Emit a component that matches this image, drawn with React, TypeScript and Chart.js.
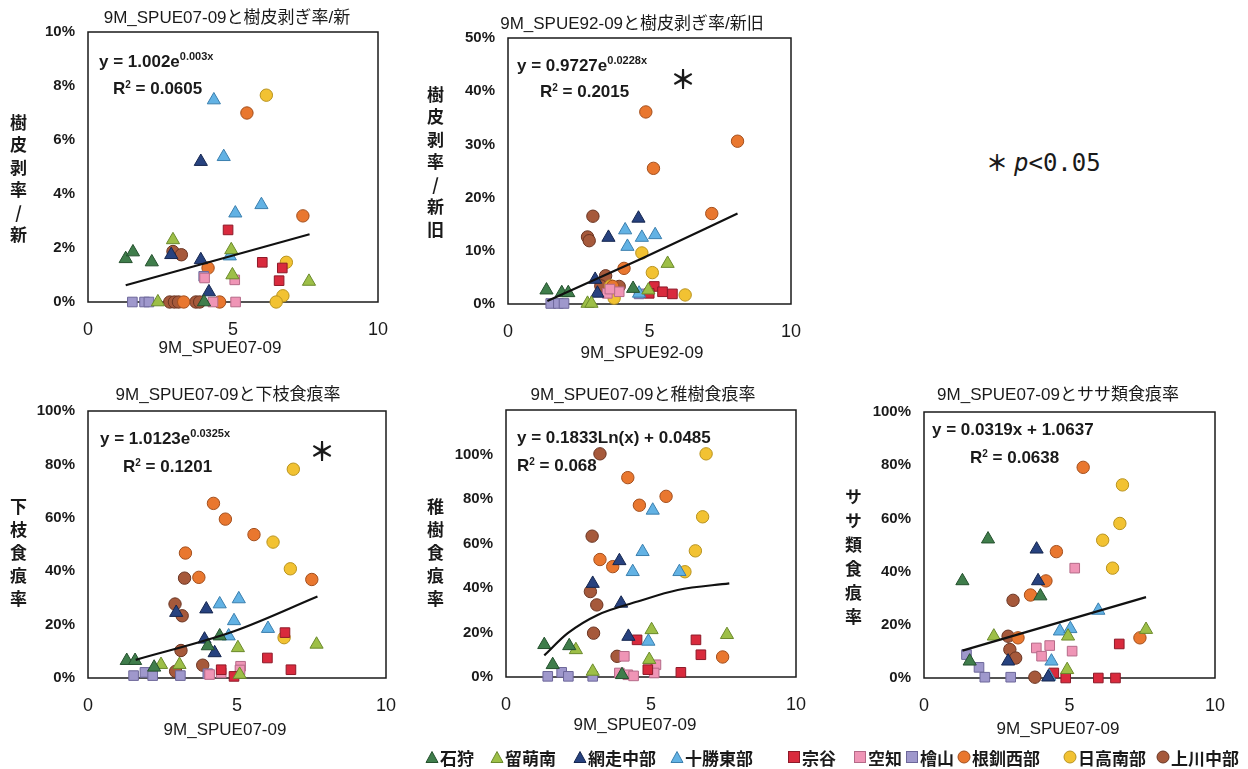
import React, { useEffect, useRef } from 'react';
import { Chart, registerables } from 'chart.js';

Chart.register(...registerables);

// ---------- data ----------
const REGIONS = ['石狩', '留萌南', '網走中部', '十勝東部', '宗谷', '空知', '檜山', '根釧西部', '日高南部', '上川中部'];
const X_TICK_STEP = 5;

// [regionIndex, SPUE, rate %]
type Pt = [number, number, number];

const BARK_NEW: Pt[] = [
  [0, 1.3, 1.6], [0, 1.55, 1.85], [0, 2.2, 1.48], [0, 4.0, 0],
  [1, 2.93, 2.3], [1, 4.94, 1.93], [1, 4.98, 1.0], [1, 7.62, 0.76], [1, 2.41, 0],
  [2, 2.87, 1.75], [2, 3.89, 5.2], [2, 3.89, 1.56], [2, 4.17, 0.37],
  [3, 4.34, 7.48], [3, 4.68, 5.38], [3, 5.08, 3.29], [3, 5.98, 3.6], [3, 4.89, 1.7],
  [4, 4.83, 2.67], [4, 6.01, 1.47], [4, 6.7, 1.26], [4, 6.59, 0.79],
  [5, 4.02, 0.89], [5, 5.06, 0.82], [5, 4.31, 0], [5, 5.09, 0],
  [6, 1.53, 0], [6, 1.95, 0], [6, 2.1, 0], [6, 3.99, 0.95],
  [7, 5.48, 7.0], [7, 7.41, 3.19], [7, 4.14, 1.26], [7, 4.54, 0], [7, 3.3, 0],
  [8, 6.15, 7.66], [8, 6.84, 1.47], [8, 6.72, 0.23], [8, 6.49, 0],
  [9, 2.93, 1.87], [9, 3.22, 1.75], [9, 2.82, 0], [9, 2.98, 0], [9, 3.12, 0], [9, 3.72, 0], [9, 3.85, 0],
];

const BARK_ALL: Pt[] = [
  [0, 1.36, 2.6], [0, 1.9, 2.1], [0, 2.13, 2.1], [0, 4.42, 2.9],
  [1, 5.64, 7.6], [1, 2.81, 0.1], [1, 2.95, 0.1], [1, 4.96, 2.6],
  [2, 4.61, 16.1], [2, 3.55, 12.5], [2, 3.08, 4.6], [2, 3.16, 2.0],
  [3, 4.14, 13.9], [3, 4.73, 12.5], [3, 5.2, 13.0], [3, 4.22, 10.8], [3, 4.63, 2.0],
  [4, 5.17, 3.3], [4, 5.46, 2.3], [4, 5.81, 1.9], [4, 4.99, 2.0],
  [5, 3.51, 2.0], [5, 3.93, 2.3], [5, 3.6, 2.8],
  [6, 1.51, 0.1], [6, 1.78, 0.1], [6, 1.98, 0.1], [6, 4.63, 1.9],
  [7, 4.87, 36.1], [7, 8.11, 30.6], [7, 5.14, 25.5], [7, 7.2, 17.0], [7, 4.1, 6.7], [7, 3.7, 3.3],
  [8, 4.73, 9.6], [8, 5.1, 5.9], [8, 6.26, 1.7], [8, 3.75, 1.1], [8, 3.63, 3.4],
  [9, 3.0, 16.5], [9, 2.81, 12.6], [9, 2.87, 11.9], [9, 3.45, 5.3], [9, 3.93, 3.3], [9, 3.28, 3.4],
];

const BRANCH: Pt[] = [
  [0, 1.3, 6.5], [0, 1.58, 6.5], [0, 2.22, 4.0], [0, 4.02, 12], [0, 4.42, 15.7],
  [1, 2.45, 5.0], [1, 3.07, 5.0], [1, 5.03, 11.3], [1, 7.67, 12.6], [1, 5.09, 1.3],
  [2, 3.97, 25.8], [2, 3.91, 14.5], [2, 4.25, 9.4], [2, 2.96, 24.5],
  [3, 4.42, 27.7], [3, 5.06, 29.6], [3, 4.9, 21.4], [3, 4.72, 15.7], [3, 6.04, 18.5],
  [4, 4.47, 3.1], [4, 4.9, 0.6], [4, 6.02, 7.5], [4, 6.81, 3.1], [4, 6.61, 17],
  [5, 4.47, 1.9], [5, 5.12, 4.4], [5, 5.1, 3.0], [5, 4.08, 1.3],
  [6, 1.53, 0.9], [6, 1.91, 2.1], [6, 2.17, 0.9], [6, 3.1, 0.9], [6, 4.02, 1.6],
  [7, 4.21, 65.4], [7, 4.61, 59.5], [7, 5.57, 53.7], [7, 3.27, 46.8], [7, 3.72, 37.7], [7, 7.51, 36.9],
  [8, 6.89, 78.2], [8, 6.21, 50.9], [8, 6.79, 40.9], [8, 6.58, 15.1],
  [9, 3.24, 37.4], [9, 2.92, 27.7], [9, 3.16, 23.3], [9, 3.12, 10.3], [9, 2.94, 2.5], [9, 3.85, 4.8],
];

const SAPLING: Pt[] = [
  [0, 1.32, 14.5], [0, 1.61, 5.5], [0, 2.18, 14], [0, 4.0, 1],
  [1, 2.41, 12.2], [1, 5.02, 21.2], [1, 7.62, 19], [1, 2.99, 2.5], [1, 4.94, 7.8],
  [2, 2.99, 42], [2, 3.91, 52.2], [2, 3.97, 33.1], [2, 4.22, 18.2],
  [3, 5.06, 74.9], [3, 4.71, 56.3], [3, 4.37, 47.3], [3, 5.98, 47.3], [3, 4.91, 16],
  [4, 4.52, 16.7], [4, 6.55, 16.7], [4, 6.72, 10], [4, 6.03, 2.1], [4, 4.89, 3.3],
  [5, 4.08, 9.3], [5, 3.91, 1.8], [5, 4.2, 1.0], [5, 4.4, 0.5], [5, 5.17, 5.5], [5, 5.11, 1.8],
  [6, 1.44, 0.3], [6, 1.92, 2.1], [6, 2.15, 0.3], [6, 2.99, 0.3],
  [7, 4.2, 89.6], [7, 5.52, 81.2], [7, 4.6, 77.2], [7, 3.24, 52.8], [7, 3.68, 49.6], [7, 7.47, 9],
  [8, 6.9, 100.3], [8, 6.78, 72], [8, 6.53, 56.7], [8, 6.17, 47.3],
  [9, 3.24, 100.3], [9, 2.97, 63.3], [9, 2.91, 38.4], [9, 3.13, 32.4], [9, 3.02, 19.7], [9, 3.83, 9.3],
];

const SASA: Pt[] = [
  [0, 1.32, 36.5], [0, 2.2, 52.2], [0, 1.57, 6.3], [0, 4.0, 30.8],
  [1, 2.4, 15.7], [1, 4.95, 15.7], [1, 4.92, 3.1], [1, 7.63, 18.2],
  [2, 3.87, 48.4], [2, 3.92, 36.5], [2, 2.89, 6.3], [2, 4.27, 0.3],
  [3, 5.99, 25.4], [3, 4.67, 17.6], [3, 5.03, 18.5], [3, 4.38, 6.3], [3, 4.3, 0.6],
  [4, 4.46, 1.9], [4, 4.87, 0], [4, 5.99, 0], [4, 6.58, 0], [4, 6.71, 12.8],
  [5, 5.18, 41.3], [5, 3.86, 11.3], [5, 4.04, 8.2], [5, 4.32, 12.2], [5, 5.09, 10.1],
  [6, 1.46, 8.8], [6, 1.89, 4], [6, 2.09, 0.3], [6, 2.98, 0.3],
  [7, 5.47, 79.2], [7, 4.55, 47.5], [7, 4.19, 36.5], [7, 3.66, 31.2], [7, 7.42, 15.1], [7, 3.23, 15.1],
  [8, 6.82, 72.6], [8, 6.73, 58.1], [8, 6.14, 51.8], [8, 6.48, 41.3],
  [9, 3.06, 29.2], [9, 2.89, 15.7], [9, 2.95, 10.7], [9, 3.15, 7.5], [9, 3.81, 0.3],
];

// trend lines [x, y%]
const TREND_BARK_NEW: [number, number][] = [[1.3, 0.62], [7.64, 2.51]];
const TREND_BARK_ALL: [number, number][] = [[1.39, 0.56], [4.75, 8.6], [8.11, 17.0]];
const TREND_BRANCH: [number, number][] = [[1.6, 6.8], [4.9, 17.5], [7.7, 30.5]];
const TREND_SAPLING: [number, number][] = [[1.32, 9.7], [2.13, 19.7], [3.16, 27.9], [4.54, 33.9], [5.92, 39.1], [7.7, 42.1]];
const TREND_SASA: [number, number][] = [[1.32, 10.3], [7.63, 30.4]];

const TITLES = ['9M_SPUE07-09と樹皮剥ぎ率/新', '9M_SPUE92-09と樹皮剥ぎ率/新旧', '9M_SPUE07-09と下枝食痕率', '9M_SPUE07-09と稚樹食痕率', '9M_SPUE07-09とササ類食痕率'];
const Y_TITLES = ['樹皮剥率/新', '樹皮剥率/新旧', '下枝食痕率', '稚樹食痕率', 'ササ類食痕率'];
const X_TITLES = ['9M_SPUE07-09', '9M_SPUE92-09', '9M_SPUE07-09', '9M_SPUE07-09', '9M_SPUE07-09'];
const EQ_MAIN = ['y = 1.002e', 'y = 0.9727e', 'y = 1.0123e', 'y = 0.1833Ln(x) + 0.0485', 'y = 0.0319x + 1.0637'];
const EQ_SUP = ['0.003x', '0.0228x', '0.0325x', '', ''];
const R2_VALUES = ['0.0605', '0.2015', '0.1201', '0.068', '0.0638'];
const Y_MAX = [10, 50, 100, 120, 100];
const Y_STEP = [2, 10, 20, 20, 20];
const Y_LABEL_MAX = [10, 50, 100, 100, 100];

// ---------- styles ----------
const SHAPES = ['triangle', 'triangle', 'triangle', 'triangle', 'rect', 'rect', 'rect', 'circle', 'circle', 'circle'];
const FILLS = ['#3f7d4b', '#9dbf47', '#27427f', '#62b2e4', '#d92a3d', '#ef95b6', '#9f98cc', '#e9772f', '#f2c232', '#a6593b'];
const EDGES = ['#24502d', '#6b8a2c', '#15264f', '#3b7fae', '#8e1a29', '#b56a88', '#6d679a', '#a34f1d', '#b8931f', '#6a3523'];
const RADIUS: Record<string, number> = { triangle: 7.6, rect: 6.8, circle: 6.2 };

const FONT = "'Liberation Sans', 'Noto Sans CJK JP', Arial, sans-serif";
const JFONT = "'Noto Sans CJK JP', 'Liberation Sans', sans-serif";
const INK = '#1a1a1a';

const AXIS_W = 70;
const AXIS_H = 75;
const PAD_T = 26;
const PAD_R = 34;

interface Layout {
  box: { l: number; t: number; r: number; b: number };
  title: [number, number];
  yTitle: [number, number, number];
  xTitle: [number, number];
  eq: [number, number];
  r2: [number, number];
  star?: [number, number];
}

const LAYOUTS: Layout[] = [
  { box: { l: 88, t: 32, r: 378, b: 302 }, title: [227, 18], yTitle: [18, 114, 5.5], xTitle: [220, 348], eq: [99, 62], r2: [113, 89] },
  { box: { l: 508, t: 38, r: 791, b: 304 }, title: [632, 24], yTitle: [435, 86, 5.5], xTitle: [642, 353], eq: [517, 66], r2: [540, 92], star: [683, 78] },
  { box: { l: 88, t: 411, r: 386, b: 678 }, title: [228, 395], yTitle: [18, 498, 6], xTitle: [225, 730], eq: [100, 439], r2: [123, 467], star: [322, 450] },
  { box: { l: 506, t: 410, r: 796, b: 677 }, title: [643, 395], yTitle: [435, 498, 6], xTitle: [635, 725], eq: [517, 438], r2: [517, 466] },
  { box: { l: 924, t: 412, r: 1215, b: 678 }, title: [1058, 395], yTitle: [853, 488, 7], xTitle: [1058, 729], eq: [932, 430], r2: [970, 458] },
];

const PANEL_POINTS = [BARK_NEW, BARK_ALL, BRANCH, SAPLING, SASA];
const PANEL_TRENDS = [TREND_BARK_NEW, TREND_BARK_ALL, TREND_BRANCH, TREND_SAPLING, TREND_SASA];

const LEGEND_X = [425, 490, 573, 670, 787, 853, 905, 957, 1063, 1156];

const framePlugin = {
  id: 'frame',
  beforeDatasetsDraw(chart: any) {
    const { ctx, chartArea } = chart;
    ctx.save();
    ctx.strokeStyle = INK;
    ctx.lineWidth = 1.5;
    ctx.strokeRect(chartArea.left, chartArea.top, chartArea.right - chartArea.left, chartArea.bottom - chartArea.top);
    ctx.restore();
  },
};

function Panel({ idx }: { idx: number }) {
  const ref = useRef<HTMLCanvasElement>(null);
  const lay = LAYOUTS[idx];
  const w = AXIS_W + (lay.box.r - lay.box.l) + PAD_R;
  const h = PAD_T + (lay.box.b - lay.box.t) + AXIS_H;

  useEffect(() => {
    const datasets: any[] = [
      {
        label: 'trend',
        data: PANEL_TRENDS[idx].map(([x, y]) => ({ x, y })),
        showLine: true,
        borderColor: '#111',
        borderWidth: 2.2,
        pointRadius: 0,
        fill: false,
        cubicInterpolationMode: 'monotone',
        clip: false,
      },
    ];
    REGIONS.forEach((name, i) => {
      datasets.push({
        label: name,
        data: PANEL_POINTS[idx].filter((p) => p[0] === i).map((p) => ({ x: p[1], y: p[2] })),
        showLine: false,
        pointStyle: SHAPES[i],
        pointRadius: RADIUS[SHAPES[i]],
        backgroundColor: FILLS[i],
        borderColor: EDGES[i],
        pointBackgroundColor: FILLS[i],
        pointBorderColor: EDGES[i],
        pointBorderWidth: 1,
        clip: false,
      });
    });
    const chart = new Chart(ref.current as HTMLCanvasElement, {
      type: 'scatter',
      data: { datasets },
      options: {
        animation: false,
        responsive: false,
        events: [],
        layout: { padding: { top: PAD_T, right: PAD_R, left: 0, bottom: 0 } },
        plugins: { legend: { display: false }, tooltip: { enabled: false }, title: { display: false } },
        scales: {
          x: {
            type: 'linear',
            min: 0,
            max: 10,
            ticks: { stepSize: X_TICK_STEP, autoSkip: false, maxRotation: 0, font: { family: FONT, size: 18 }, color: INK, padding: 17 },
            grid: { display: false, drawTicks: false },
            border: { display: false },
            afterFit: (s: any) => {
              s.height = AXIS_H;
            },
          },
          y: {
            type: 'linear',
            min: 0,
            max: Y_MAX[idx],
            ticks: {
              stepSize: Y_STEP[idx],
              autoSkip: false,
              callback: (v: any) => `${v}%`,
              font: { family: FONT, size: 15, weight: 'bold' },
              color: INK,
              padding: 13,
            },
            grid: { display: false, drawTicks: false },
            border: { display: false },
            afterFit: (s: any) => {
              s.width = AXIS_W;
            },
            afterBuildTicks: (s: any) => {
              s.ticks = s.ticks.filter((t: any) => t.value <= Y_LABEL_MAX[idx] + 1e-9);
            },
          },
        },
      } as any,
      plugins: [framePlugin],
    });
    return () => chart.destroy();
  }, [idx]);

  const abs: React.CSSProperties = { position: 'absolute', whiteSpace: 'nowrap', color: INK };

  return (
    <>
      <canvas
        ref={ref}
        width={w}
        height={h}
        style={{ position: 'absolute', left: lay.box.l - AXIS_W, top: lay.box.t - PAD_T, width: w, height: h }}
      />
      <div style={{ ...abs, left: lay.title[0], top: lay.title[1] - 11, lineHeight: '22px', transform: 'translateX(-50%)', fontFamily: FONT, fontSize: 17 }}>
        {TITLES[idx]}
      </div>
      <div
        style={{
          ...abs,
          left: lay.yTitle[0] - 11,
          top: lay.yTitle[1],
          writingMode: 'vertical-rl',
          textOrientation: 'upright',
          fontFamily: JFONT,
          fontSize: 17,
          fontWeight: 'bold',
          letterSpacing: `${lay.yTitle[2]}px`,
          lineHeight: '22px',
        }}
      >
        {Y_TITLES[idx]}
      </div>
      <div style={{ ...abs, left: lay.xTitle[0], top: lay.xTitle[1] - 11, lineHeight: '22px', transform: 'translateX(-50%)', fontFamily: FONT, fontSize: 17 }}>
        {X_TITLES[idx]}
      </div>
      <div style={{ ...abs, left: lay.eq[0], top: lay.eq[1] - 10, lineHeight: '20px', fontFamily: FONT, fontSize: 17, fontWeight: 'bold' }}>
        {EQ_MAIN[idx]}
        {EQ_SUP[idx] ? <sup style={{ fontSize: 11, verticalAlign: 'top', position: 'relative', top: -6 }}>{EQ_SUP[idx]}</sup> : null}
      </div>
      <div style={{ ...abs, left: lay.r2[0], top: lay.r2[1] - 10, lineHeight: '20px', fontFamily: FONT, fontSize: 17, fontWeight: 'bold' }}>
        R<sup style={{ fontSize: 10, verticalAlign: 'top', position: 'relative', top: -4 }}>2</sup> = {R2_VALUES[idx]}
      </div>
      {lay.star ? (
        <div style={{ ...abs, left: lay.star[0], top: lay.star[1] - 14, lineHeight: '28px', transform: 'translateX(-50%)', fontFamily: JFONT, fontSize: 26, fontWeight: 'bold' }}>
          ＊
        </div>
      ) : null}
    </>
  );
}

function Marker({ i }: { i: number }) {
  const shape = SHAPES[i];
  return (
    <svg width={14} height={14} viewBox="0 0 14 14" style={{ marginRight: 1, flex: 'none' }}>
      {shape === 'triangle' ? (
        <polygon points="7,1.5 13,12.5 1,12.5" fill={FILLS[i]} stroke={EDGES[i]} strokeWidth={1} />
      ) : shape === 'rect' ? (
        <rect x={1.5} y={1.5} width={11} height={11} fill={FILLS[i]} stroke={EDGES[i]} strokeWidth={1} />
      ) : (
        <circle cx={7} cy={7} r={6} fill={FILLS[i]} stroke={EDGES[i]} strokeWidth={1} />
      )}
    </svg>
  );
}

export default function App() {
  return (
    <div style={{ position: 'absolute', left: 0, top: 0, width: 1248, height: 769, background: '#fff', overflow: 'hidden' }}>
      {LAYOUTS.map((_, i) => (
        <Panel key={i} idx={i} />
      ))}
      <div
        style={{
          position: 'absolute',
          left: 986,
          top: 146,
          lineHeight: '30px',
          whiteSpace: 'nowrap',
          color: INK,
          fontSize: 24,
          fontFamily: "'DejaVu Sans Mono', monospace",
        }}
      >
        <span style={{ fontFamily: JFONT, fontWeight: 'bold', fontSize: 22, marginRight: 6 }}>＊</span>
        <i>p</i>&lt;0.05
      </div>
      {REGIONS.map((name, i) => (
        <div
          key={name}
          style={{
            position: 'absolute',
            left: LEGEND_X[i],
            top: 745,
            height: 24,
            display: 'flex',
            alignItems: 'center',
            whiteSpace: 'nowrap',
            fontFamily: JFONT,
            fontSize: 17,
            fontWeight: 'bold',
            color: INK,
          }}
        >
          <Marker i={i} />
          <span>{name}</span>
        </div>
      ))}
    </div>
  );
}
